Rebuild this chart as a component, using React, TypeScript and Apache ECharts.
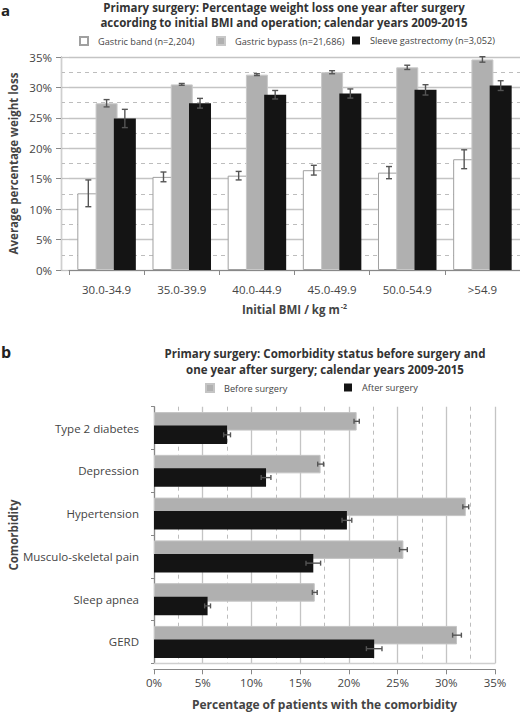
import React, { useEffect, useRef } from "react";
import * as echarts from "echarts";

const bmiCategories = ["30.0-34.9", "35.0-39.9", "40.0-44.9", "45.0-49.9", "50.0-54.9", ">54.9"];
const bandValues = [12.6, 15.3, 15.5, 16.4, 16.0, 18.2];
const bandErr = [2.2, 0.8, 0.7, 0.8, 1.0, 1.55];
const bypassValues = [27.4, 30.5, 32.1, 32.5, 33.3, 34.6];
const bypassErr = [0.6, 0.15, 0.15, 0.25, 0.35, 0.45];
const sleeveValues = [24.9, 27.4, 28.8, 29.0, 29.6, 30.3];
const sleeveErr = [1.5, 0.8, 0.7, 0.75, 0.85, 0.8];

const comorbidities = ["Type 2 diabetes", "Depression", "Hypertension", "Musculo-skeletal pain", "Sleep apnea", "GERD"];
const beforeValues = [20.8, 17.1, 32.0, 25.6, 16.5, 31.1];
const beforeErr = [0.27, 0.3, 0.3, 0.4, 0.25, 0.45];
const afterValues = [7.5, 11.5, 19.8, 16.35, 5.5, 22.6];
const afterErr = [0.35, 0.5, 0.5, 0.75, 0.3, 0.8];

const pctTicks = [0, 5, 10, 15, 20, 25, 30, 35];

const FONT = "'Open Sans', 'Noto Sans', sans-serif";
const TXT = "#444";
const GRID_SOLID = "#c4c4c4";
const GRID_DASH = "#bdbdbd";
const ERR = "#555";

const TOP_BAR_W = 22;
const TOP_GAP = -0.17;
const BOT_BAR_W = 18.5;
const BOT_GAP = -0.27;

function vErr(offset: number, cap: number) {
  return (params: any, api: any) => {
    const c = api.value(0);
    const v = api.value(1);
    const e = api.value(2);
    const p1 = api.coord([c, v - e]);
    const p2 = api.coord([c, v + e]);
    const x = p1[0] + offset;
    const st = { stroke: ERR, lineWidth: 1.4 };
    return {
      type: "group",
      children: [
        { type: "line", shape: { x1: x, y1: p1[1], x2: x, y2: p2[1] }, style: st },
        { type: "line", shape: { x1: x - cap / 2, y1: p1[1], x2: x + cap / 2, y2: p1[1] }, style: st },
        { type: "line", shape: { x1: x - cap / 2, y1: p2[1], x2: x + cap / 2, y2: p2[1] }, style: st },
      ],
    };
  };
}

function hErr(offset: number, cap: number) {
  return (params: any, api: any) => {
    const v = api.value(0);
    const c = api.value(1);
    const e = api.value(2);
    const p1 = api.coord([v - e, c]);
    const p2 = api.coord([v + e, c]);
    const y = p1[1] + offset;
    const st = { stroke: ERR, lineWidth: 1.4 };
    return {
      type: "group",
      children: [
        { type: "line", shape: { x1: p1[0], y1: y, x2: p2[0], y2: y }, style: st },
        { type: "line", shape: { x1: p1[0], y1: y - cap / 2, x2: p1[0], y2: y + cap / 2 }, style: st },
        { type: "line", shape: { x1: p2[0], y1: y - cap / 2, x2: p2[0], y2: y + cap / 2 }, style: st },
      ],
    };
  };
}

function legendItem(name: string, left: number, top: number) {
  return {
    data: [name],
    left,
    top,
    padding: 0,
    itemWidth: 8,
    itemHeight: 8,
    icon: "rect",
    textStyle: { fontFamily: FONT, fontSize: 9.2, color: TXT, padding: [0, 0, 0, 5] },
  };
}

export default function App() {
  const ref = useRef<HTMLDivElement>(null);
  useEffect(() => {
    if (!ref.current) return;
    const chart = echarts.init(ref.current, null, { renderer: "svg" });
    const topStep = TOP_BAR_W * (1 + TOP_GAP);
    const botStep = BOT_BAR_W * (1 + BOT_GAP);
    const pctLabel = (v: number) => (pctTicks.indexOf(v) >= 0 ? v + "%" : "");

    const splitSolid = { show: true, lineStyle: { color: GRID_SOLID, width: 1.3 } };
    const splitDash = { show: true, lineStyle: { color: GRID_DASH, width: 1, type: [4, 4] } };

    chart.setOption({
      animation: false,
      backgroundColor: "#fff",
      textStyle: { fontFamily: FONT },
      title: [
        {
          text: "Primary surgery: Percentage weight loss one year after surgery\naccording to initial BMI and operation; calendar years 2009-2015",
          left: 284,
          top: 0,
          padding: 0,
          textAlign: "center",
          textStyle: { fontFamily: FONT, fontSize: 11.5, fontWeight: "bold", color: "#333", lineHeight: 15 },
        },
        {
          text: "Primary surgery: Comorbidity status before surgery and\none year after surgery; calendar years 2009-2015",
          left: 325,
          top: 345,
          padding: 0,
          textAlign: "center",
          textStyle: { fontFamily: FONT, fontSize: 11.5, fontWeight: "bold", color: "#333", lineHeight: 16 },
        },
      ],
      legend: [
        legendItem("Gastric band (n=2,204)", 79, 36),
        legendItem("Gastric bypass (n=21,686)", 216, 36),
        legendItem("Sleeve gastrectomy (n=3,052)", 352, 36),
        legendItem("Before surgery", 205, 383),
        legendItem("After surgery", 344, 383),
      ],
      graphic: [
        { type: "text", left: 1, top: 2, style: { text: "a", font: "bold 15px " + FONT, fill: "#222" } },
        { type: "text", left: 1, top: 344, style: { text: "b", font: "bold 16px " + FONT, fill: "#222" } },
      ],
      grid: [
        { left: 61, top: 57, width: 8, height: 213, outerBoundsMode: "none", containLabel: false },
        { left: 69, top: 57, width: 451, height: 213, outerBoundsMode: "none", containLabel: false },
        { left: 154, top: 406.7, width: 341, height: 256.6, outerBoundsMode: "none", containLabel: false },
      ],
      xAxis: [
        { gridIndex: 0, type: "value", show: false },
        {
          gridIndex: 1,
          type: "category",
          position: "bottom",
          data: bmiCategories,
          offset: 5,
          axisLine: { lineStyle: { color: "#888", width: 1.2 } },
          axisTick: { show: true, interval: 0, length: 5, lineStyle: { color: "#888" } },
          axisLabel: { fontFamily: FONT, fontSize: 11.5, color: TXT, margin: 8 },
          name: "Initial BMI / kg m{sup|-2}",
          nameLocation: "middle",
          nameGap: 28,
          nameTextStyle: {
            fontFamily: FONT,
            fontSize: 11.5,
            fontWeight: "bold",
            color: TXT,
            rich: { sup: { fontSize: 7, verticalAlign: "top", padding: [0, 0, 6, 1], fontWeight: "bold", color: TXT } },
          },
        },
        {
          gridIndex: 2,
          type: "value",
          position: "bottom",
          min: 0,
          max: 35,
          interval: 5,
          axisLine: { show: true, lineStyle: { color: "#cfcfcf", width: 1.3 } },
          axisTick: { show: false },
          axisLabel: { show: false },
          splitLine: splitSolid,
          minorTick: { show: false, splitNumber: 2 },
          minorSplitLine: splitDash,
        },
        {
          gridIndex: 2,
          type: "value",
          position: "bottom",
          min: 0,
          max: 35,
          interval: 5,
          offset: 6,
          axisLine: { show: true, lineStyle: { color: "#888", width: 1.2 } },
          axisTick: { show: true, length: 5, lineStyle: { color: "#888" } },
          axisLabel: { fontFamily: FONT, fontSize: 11.5, color: TXT, margin: 7, formatter: pctLabel },
          splitLine: { show: false },
          name: "Percentage of patients with the comorbidity",
          nameLocation: "middle",
          nameGap: 29,
          nameTextStyle: { fontFamily: FONT, fontSize: 12, fontWeight: "bold", color: TXT },
        },
      ],
      yAxis: [
        {
          gridIndex: 0,
          type: "value",
          position: "left",
          min: 0,
          max: 35,
          interval: 5,
          offset: 4,
          axisLine: { show: true, lineStyle: { color: "#888", width: 1.2 } },
          axisTick: { show: true, length: 5, lineStyle: { color: "#888" } },
          axisLabel: { fontFamily: FONT, fontSize: 11.5, color: TXT, margin: 5, formatter: pctLabel },
          splitLine: splitSolid,
          minorTick: { show: false, splitNumber: 2 },
          minorSplitLine: splitDash,
          name: "Average percentage weight loss",
          nameLocation: "middle",
          nameGap: 38,
          nameMoveOverlap: false,
          nameTextStyle: { fontFamily: FONT, fontSize: 11.5, fontWeight: "bold", color: TXT },
        },
        {
          gridIndex: 0,
          type: "value",
          position: "left",
          min: 0,
          max: 35,
          interval: 5,
          axisLine: { show: true, lineStyle: { color: "#cfcfcf", width: 1.3 } },
          axisTick: { show: false },
          axisLabel: { show: false },
          splitLine: { show: false },
        },
        {
          gridIndex: 1,
          type: "value",
          position: "left",
          min: 0,
          max: 35,
          interval: 5,
          axisLine: { show: false },
          axisTick: { show: false },
          axisLabel: { show: false },
          splitLine: splitSolid,
          minorTick: { show: false, splitNumber: 2 },
          minorSplitLine: splitDash,
        },
        {
          gridIndex: 2,
          type: "category",
          position: "left",
          data: comorbidities,
          inverse: true,
          offset: 7,
          axisLine: { show: true, lineStyle: { color: "#888", width: 1.2 } },
          axisTick: { show: true, interval: 0, length: 3, lineStyle: { color: "#888" } },
          axisLabel: { fontFamily: FONT, fontSize: 11.5, color: TXT, margin: 8 },
          name: "Comorbidity",
          nameLocation: "middle",
          nameGap: 128,
          nameMoveOverlap: false,
          nameTextStyle: { fontFamily: FONT, fontSize: 11.5, fontWeight: "bold", color: TXT },
        },
      ],
      series: [
        {
          name: "Gastric band (n=2,204)",
          type: "bar",
          xAxisIndex: 1,
          yAxisIndex: 2,
          data: bandValues,
          barWidth: TOP_BAR_W,
          barGap: TOP_GAP * 100 + "%",
          itemStyle: { color: "#ffffff", borderColor: "#a0a0a0", borderWidth: 1 },
        },
        {
          name: "Gastric bypass (n=21,686)",
          type: "bar",
          xAxisIndex: 1,
          yAxisIndex: 2,
          data: bypassValues,
          barWidth: TOP_BAR_W,
          barGap: TOP_GAP * 100 + "%",
          itemStyle: { color: "#b0b0b0", borderColor: "#c8c8c8", borderWidth: 1 },
        },
        {
          name: "Sleeve gastrectomy (n=3,052)",
          type: "bar",
          xAxisIndex: 1,
          yAxisIndex: 2,
          data: sleeveValues,
          barWidth: TOP_BAR_W,
          barGap: TOP_GAP * 100 + "%",
          itemStyle: { color: "#141414" },
        },
        {
          type: "custom",
          xAxisIndex: 1,
          yAxisIndex: 2,
          z: 5,
          renderItem: vErr(-topStep, 6),
          data: bandValues.map((v, i) => [i, v, bandErr[i]]),
        },
        {
          type: "custom",
          xAxisIndex: 1,
          yAxisIndex: 2,
          z: 5,
          renderItem: vErr(0, 6),
          data: bypassValues.map((v, i) => [i, v, bypassErr[i]]),
        },
        {
          type: "custom",
          xAxisIndex: 1,
          yAxisIndex: 2,
          z: 5,
          renderItem: vErr(topStep, 6),
          data: sleeveValues.map((v, i) => [i, v, sleeveErr[i]]),
        },
        {
          name: "Before surgery",
          type: "bar",
          xAxisIndex: 2,
          yAxisIndex: 3,
          data: beforeValues,
          barWidth: BOT_BAR_W,
          barGap: BOT_GAP * 100 + "%",
          itemStyle: { color: "#b0b0b0", borderColor: "#c4c4c4", borderWidth: 1 },
        },
        {
          name: "After surgery",
          type: "bar",
          xAxisIndex: 2,
          yAxisIndex: 3,
          data: afterValues,
          barWidth: BOT_BAR_W,
          barGap: BOT_GAP * 100 + "%",
          itemStyle: { color: "#141414" },
        },
        {
          type: "custom",
          xAxisIndex: 2,
          yAxisIndex: 3,
          z: 5,
          renderItem: hErr(-botStep / 2, 5),
          data: beforeValues.map((v, i) => [v, i, beforeErr[i]]),
        },
        {
          type: "custom",
          xAxisIndex: 2,
          yAxisIndex: 3,
          z: 5,
          renderItem: hErr(botStep / 2, 5),
          data: afterValues.map((v, i) => [v, i, afterErr[i]]),
        },
      ],
    });
    return () => chart.dispose();
  }, []);
  return (
    <div
      ref={ref}
      style={{ position: "absolute", left: 0, top: 0, width: 520, height: 712, background: "#fff" }}
    />
  );
}
